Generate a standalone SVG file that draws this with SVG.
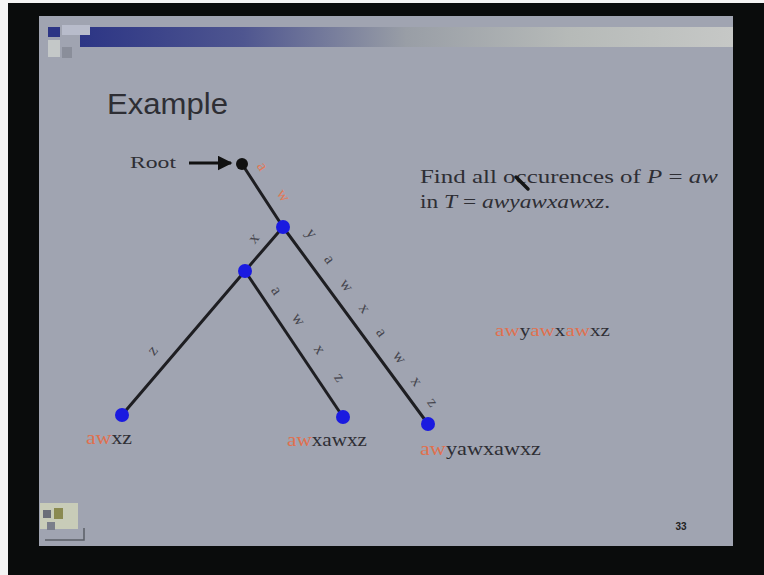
<svg xmlns="http://www.w3.org/2000/svg" width="764" height="575" viewBox="0 0 764 575">
  <defs>
    <linearGradient id="bar" x1="0" y1="0" x2="1" y2="0">
      <stop offset="0" stop-color="#2c3585"/>
      <stop offset="0.25" stop-color="#4f5690"/>
      <stop offset="0.5" stop-color="#999ea6"/>
      <stop offset="0.75" stop-color="#b6bab8"/>
      <stop offset="1" stop-color="#c6c8c6"/>
    </linearGradient>
    <marker id="arr" viewBox="0 0 10 10" refX="9" refY="5" markerWidth="5" markerHeight="5" orient="auto">
      <path d="M0,0 L10,5 L0,10 z" fill="#111"/>
    </marker>
    <style>
      .serif { font-family: "Liberation Serif", "Times New Roman", serif; }
      .sans { font-family: "Liberation Sans", Arial, sans-serif; }
      .txt { fill: #2e2e34; }
      .hi { fill: #e0704e; }
      .edge { stroke: #1e1e22; stroke-width: 3; stroke-linecap: round; fill: none; }
      .lbl { font-family: "Liberation Serif", "Times New Roman", serif; font-size: 16px; fill: #45454d; text-anchor: middle; dominant-baseline: central; }
      .lblhi { font-family: "Liberation Serif", "Times New Roman", serif; font-size: 16px; fill: #e07a58; text-anchor: middle; dominant-baseline: central; }
      .node { fill: #1a1ae0; }
    </style>
  </defs>

  <!-- photo frame -->
  <rect x="0" y="0" width="764" height="575" fill="#0a0c0c"/>
  <rect x="0" y="0" width="8" height="575" fill="#f4f4f4"/>
  <rect x="0" y="0" width="764" height="3" fill="#f4f4f4"/>

  <!-- slide -->
  <rect x="39" y="16" width="694" height="530" fill="#a0a4b1"/>
  <rect x="80" y="27" width="653" height="20" fill="url(#bar)"/>
  <rect x="48" y="27" width="12" height="10" fill="#2c3585"/>
  <rect x="62" y="25" width="28" height="10" fill="#b8bccb"/>
  <rect x="48" y="40" width="12" height="17" fill="#c4c8c8"/>
  <rect x="62" y="47" width="10" height="11" fill="#8a8e9a"/>

  <!-- title -->
  <text x="107" y="114" class="sans txt" font-size="29" textLength="121" lengthAdjust="spacingAndGlyphs">Example</text>

  <!-- right text -->
  <text x="420" y="183" class="serif txt" font-size="18" textLength="298" lengthAdjust="spacingAndGlyphs">Find all occurences of <tspan font-style="italic">P</tspan> = <tspan font-style="italic">aw</tspan></text>
  <text x="420" y="208" class="serif txt" font-size="18" textLength="190" lengthAdjust="spacingAndGlyphs">in <tspan font-style="italic">T</tspan> = <tspan font-style="italic">awyawxawxz</tspan>.</text>
  <path d="M516,177 L528,189" stroke="#151515" stroke-width="3.5" stroke-linecap="round"/>

  <text x="495" y="336" class="serif" font-size="17" textLength="115" lengthAdjust="spacingAndGlyphs"><tspan class="hi">aw</tspan><tspan class="txt">y</tspan><tspan class="hi">aw</tspan><tspan class="txt">x</tspan><tspan class="hi">aw</tspan><tspan class="txt">xz</tspan></text>

  <!-- root label and arrow -->
  <text x="130" y="168" class="serif txt" font-size="17" textLength="46" lengthAdjust="spacingAndGlyphs">Root</text>
  <line x1="189" y1="163" x2="231" y2="163" stroke="#111" stroke-width="3" marker-end="url(#arr)"/>

  <!-- connectors -->
  <g id="connectors">
    <line class="edge" x1="242" y1="164" x2="283" y2="227"/>
    <line class="edge" x1="283" y1="227" x2="245" y2="271"/>
    <line class="edge" x1="245" y1="271" x2="122" y2="415"/>
    <line class="edge" x1="245" y1="271" x2="343" y2="417"/>
    <line class="edge" x1="283" y1="227" x2="428" y2="424"/>
  </g>

  <!-- edge labels -->
  <g id="edge-labels">
    <text class="lblhi" transform="translate(263,166) rotate(57)">a</text>
    <text class="lblhi" transform="translate(284,195) rotate(57)">w</text>
    <text class="lbl" transform="translate(253,238) rotate(-50)">x</text>
    <text class="lbl" transform="translate(312,233) rotate(54)">y</text>
    <text class="lbl" transform="translate(330,259) rotate(54)">a</text>
    <text class="lbl" transform="translate(347,285) rotate(54)">w</text>
    <text class="lbl" transform="translate(365,308) rotate(54)">x</text>
    <text class="lbl" transform="translate(382,332) rotate(54)">a</text>
    <text class="lbl" transform="translate(400,357) rotate(54)">w</text>
    <text class="lbl" transform="translate(417,381) rotate(54)">x</text>
    <text class="lbl" transform="translate(433,402) rotate(54)">z</text>
    <text class="lbl" transform="translate(277,290) rotate(56)">a</text>
    <text class="lbl" transform="translate(299,319) rotate(56)">w</text>
    <text class="lbl" transform="translate(320,349) rotate(56)">x</text>
    <text class="lbl" transform="translate(340,377) rotate(56)">z</text>
    <text class="lbl" transform="translate(152,350) rotate(-50)" font-size="13">z</text>
  </g>

  <!-- nodes -->
  <g id="root"><circle cx="242" cy="164" r="6" fill="#111"/></g>
  <g id="n1"><circle class="node" cx="283" cy="227" r="7"/></g>
  <g id="n2"><circle class="node" cx="245" cy="271" r="7"/></g>
  <g id="leaf1">
    <circle class="node" cx="122" cy="415" r="7"/>
    <text x="86" y="444" class="serif" font-size="18" textLength="46" lengthAdjust="spacingAndGlyphs"><tspan class="hi">aw</tspan><tspan class="txt">xz</tspan></text>
  </g>
  <g id="leaf2">
    <circle class="node" cx="343" cy="417" r="7"/>
    <text x="287" y="446" class="serif" font-size="18" textLength="80" lengthAdjust="spacingAndGlyphs"><tspan class="hi">aw</tspan><tspan class="txt">xawxz</tspan></text>
  </g>
  <g id="leaf3">
    <circle class="node" cx="428" cy="424" r="7"/>
    <text x="420" y="455" class="serif" font-size="18" textLength="121" lengthAdjust="spacingAndGlyphs"><tspan class="hi">aw</tspan><tspan class="txt">yawxawxz</tspan></text>
  </g>

  <!-- footer -->
  <rect x="40" y="503" width="38" height="26" fill="#c8ccb8"/>
  <rect x="43" y="510" width="8" height="8" fill="#6a6e78"/>
  <rect x="54" y="508" width="9" height="11" fill="#8a8a50"/>
  <rect x="47" y="522" width="8" height="8" fill="#7a7e8a"/>
  <path d="M45,540 L84,540 L84,528" stroke="#5a5e66" stroke-width="1.5" fill="none"/>
  <text x="681" y="530" class="sans" font-size="10" font-weight="bold" fill="#222" text-anchor="middle">33</text>
</svg>
